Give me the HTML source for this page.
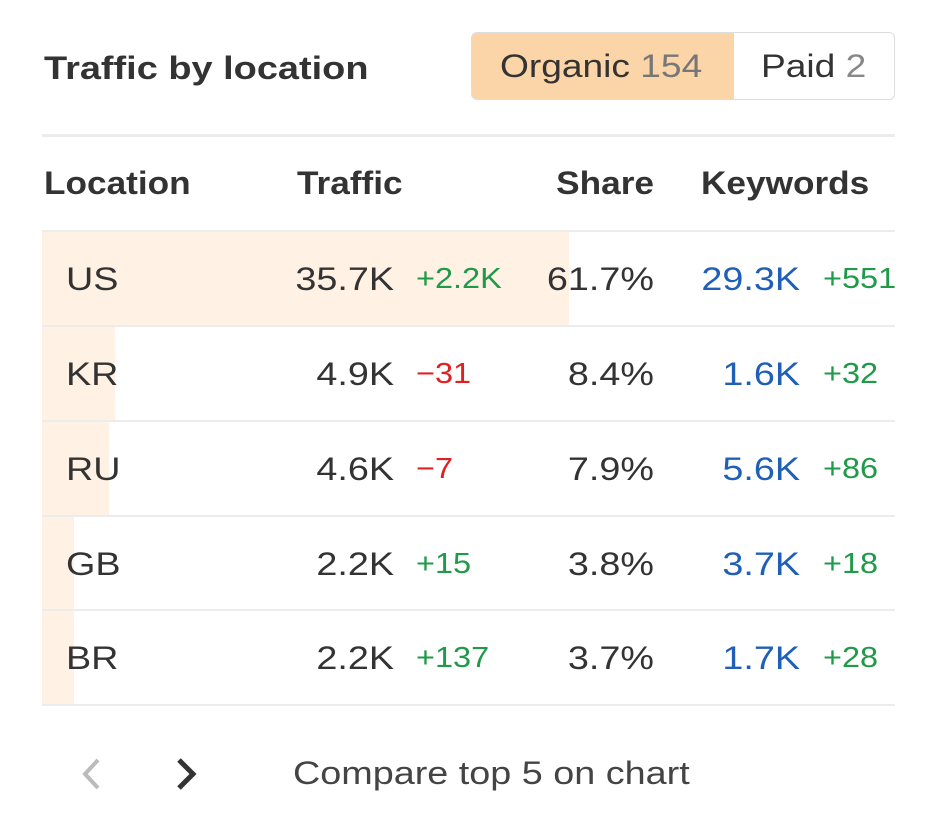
<!DOCTYPE html>
<html><head><style>
body{margin:0;width:930px;height:831px;background:#fff;font-family:"Liberation Sans",Arial,sans-serif;position:relative;overflow:hidden;color:#333}
.a{position:absolute;white-space:nowrap}
.t{font-size:32px;line-height:32px;transform:scaleX(1.18);transform-origin:left center}
.r{text-align:right;transform-origin:right center}
.b{font-weight:bold;transform:scaleX(1.1)}
.g{color:#1e9a48}.red{color:#e02020}.bl{color:#1f5fb8}
.d{transform:scaleX(1.12)}
.line{position:absolute;left:42px;width:853px;height:2px;background:#ececec}
.bar{position:absolute;left:42px;background:#fff1e3}
</style></head><body>
<div class="a b" style="left:44px;top:50px;font-size:32px;color:#333;transform:scaleX(1.185);transform-origin:left center">Traffic by location</div>
<div class="a" style="left:471px;top:32px;width:422px;height:66px;border:1px solid #ddd;border-radius:6px;overflow:hidden">
 <div class="a" style="left:0;top:0;width:262px;height:66px;background:#fbd4a8"></div>
 <div class="a t" style="left:28px;top:17px;color:#333;transform:scaleX(1.16)">Organic <span style="color:#777">154</span></div>
 <div class="a t" style="left:289px;top:17px;color:#333;transform:scaleX(1.16)">Paid <span style="color:#888">2</span></div>
</div>
<div class="line" style="top:134px;height:3px"></div>
<div class="a t b" style="left:44px;top:167px">Location</div>
<div class="a t b" style="left:297px;top:167px">Traffic</div>
<div class="a t b r" style="left:500px;width:154px;top:167px">Share</div>
<div class="a t b" style="left:701px;top:167px">Keywords</div>
<div class="line" style="top:230px"></div>

<div class="bar" style="top:232px;width:527px;height:93px"></div>
<div class="bar" style="top:327px;width:73px;height:93px"></div>
<div class="bar" style="top:422px;width:67px;height:93px"></div>
<div class="bar" style="top:517px;width:32px;height:92px"></div>
<div class="bar" style="top:611px;width:32px;height:93px"></div>

<div class="line" style="top:325px"></div>
<div class="line" style="top:420px"></div>
<div class="line" style="top:515px"></div>
<div class="line" style="top:609px"></div>
<div class="line" style="top:704px"></div>

<div class="a t" style="left:66px;top:263px">US</div>
<div class="a t r" style="left:250px;width:144px;top:263px">35.7K</div>
<div class="a t g d" style="left:416px;top:263px;font-size:29px">+2.2K</div>
<div class="a t r" style="left:500px;width:154px;top:263px">61.7%</div>
<div class="a t r bl" style="left:650px;width:150px;top:263px">29.3K</div>
<div class="a t g d" style="left:823px;top:263px;font-size:29px">+551</div>

<div class="a t" style="left:66px;top:358px">KR</div>
<div class="a t r" style="left:250px;width:144px;top:358px">4.9K</div>
<div class="a t red d" style="left:416px;top:358px;font-size:29px">−31</div>
<div class="a t r" style="left:500px;width:154px;top:358px">8.4%</div>
<div class="a t r bl" style="left:650px;width:150px;top:358px">1.6K</div>
<div class="a t g d" style="left:823px;top:358px;font-size:29px">+32</div>

<div class="a t" style="left:66px;top:453px">RU</div>
<div class="a t r" style="left:250px;width:144px;top:453px">4.6K</div>
<div class="a t red d" style="left:416px;top:453px;font-size:29px">−7</div>
<div class="a t r" style="left:500px;width:154px;top:453px">7.9%</div>
<div class="a t r bl" style="left:650px;width:150px;top:453px">5.6K</div>
<div class="a t g d" style="left:823px;top:453px;font-size:29px">+86</div>

<div class="a t" style="left:66px;top:548px">GB</div>
<div class="a t r" style="left:250px;width:144px;top:548px">2.2K</div>
<div class="a t g d" style="left:416px;top:548px;font-size:29px">+15</div>
<div class="a t r" style="left:500px;width:154px;top:548px">3.8%</div>
<div class="a t r bl" style="left:650px;width:150px;top:548px">3.7K</div>
<div class="a t g d" style="left:823px;top:548px;font-size:29px">+18</div>

<div class="a t" style="left:66px;top:642px">BR</div>
<div class="a t r" style="left:250px;width:144px;top:642px">2.2K</div>
<div class="a t g d" style="left:416px;top:642px;font-size:29px">+137</div>
<div class="a t r" style="left:500px;width:154px;top:642px">3.7%</div>
<div class="a t r bl" style="left:650px;width:150px;top:642px">1.7K</div>
<div class="a t g d" style="left:823px;top:642px;font-size:29px">+28</div>

<svg class="a" style="left:76px;top:756px" width="130" height="36">
<polyline points="22,4 9,18 22,32" fill="none" stroke="#bbb" stroke-width="4"/>
<polyline points="103,4 117,18 103,32" fill="none" stroke="#333" stroke-width="5"/>
</svg>
<div class="a t" style="left:293px;top:757px;color:#444">Compare top 5 on chart</div>
</body></html>
